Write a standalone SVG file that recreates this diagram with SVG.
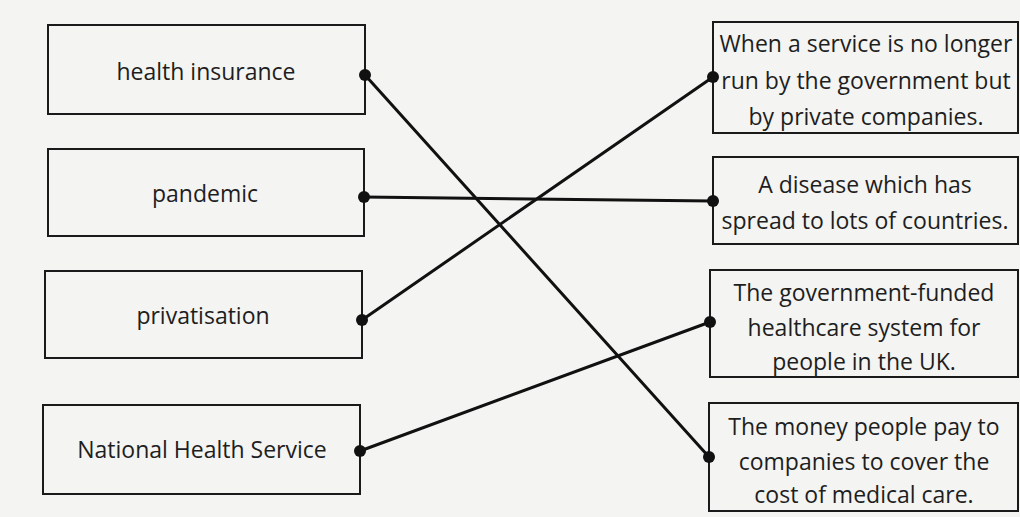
<svg xmlns="http://www.w3.org/2000/svg" width="1020" height="517" viewBox="0 0 1020 517">
<style>
.box{fill:none;stroke:#1a1a1a;stroke-width:2}
.t{font-family:"Open Sans","Noto Sans",sans-serif;font-size:23px;fill:#1e1e1e;text-anchor:middle}
.c{stroke:#111;stroke-width:3;fill:none;stroke-linecap:round}
.d{fill:#111}
</style>
<rect x="0" y="0" width="1020" height="517" fill="#f4f4f2"/>
<g id="n-health-insurance"><rect class="box" x="48" y="25" width="317" height="89"/><text class="t" x="206" y="80">health insurance</text></g>
<g id="n-pandemic"><rect class="box" x="48" y="149" width="316" height="87"/><text class="t" x="205" y="202">pandemic</text></g>
<g id="n-privatisation"><rect class="box" x="45" y="271" width="317" height="87"/><text class="t" x="203" y="324">privatisation</text></g>
<g id="n-nhs"><rect class="box" x="43" y="405" width="317" height="89"/><text class="t" x="202" y="458">National Health Service</text></g>
<g id="n-def-a"><rect class="box" x="713" y="22" width="305" height="111"/><text class="t" x="866" y="52">When a service is no longer</text><text class="t" x="866" y="89">run by the government but</text><text class="t" x="866" y="125">by private companies.</text></g>
<g id="n-def-b"><rect class="box" x="713" y="157" width="305" height="87"/><text class="t" x="865" y="193">A disease which has</text><text class="t" x="865" y="229">spread to lots of countries.</text></g>
<g id="n-def-c"><rect class="box" x="710" y="270" width="308" height="107"/><text class="t" x="864" y="301">The government-funded</text><text class="t" x="864" y="336">healthcare system for</text><text class="t" x="864" y="370">people in the UK.</text></g>
<g id="n-def-d"><rect class="box" x="709" y="403" width="309" height="108"/><text class="t" x="864" y="435">The money people pay to</text><text class="t" x="864" y="470">companies to cover the</text><text class="t" x="864" y="503">cost of medical care.</text></g>
<g id="connectors">
<line class="c" x1="365" y1="75" x2="709" y2="457"/>
<line class="c" x1="364" y1="197" x2="713" y2="201"/>
<line class="c" x1="362" y1="320" x2="713" y2="77"/>
<line class="c" x1="360" y1="451" x2="710" y2="322"/>
<circle class="d" cx="365" cy="75" r="6"/>
<circle class="d" cx="364" cy="197" r="6"/>
<circle class="d" cx="362" cy="320" r="6"/>
<circle class="d" cx="360" cy="451" r="6"/>
<circle class="d" cx="713" cy="77" r="6"/>
<circle class="d" cx="713" cy="201" r="6"/>
<circle class="d" cx="710" cy="322" r="6"/>
<circle class="d" cx="709" cy="457" r="6"/>
</g>
</svg>
